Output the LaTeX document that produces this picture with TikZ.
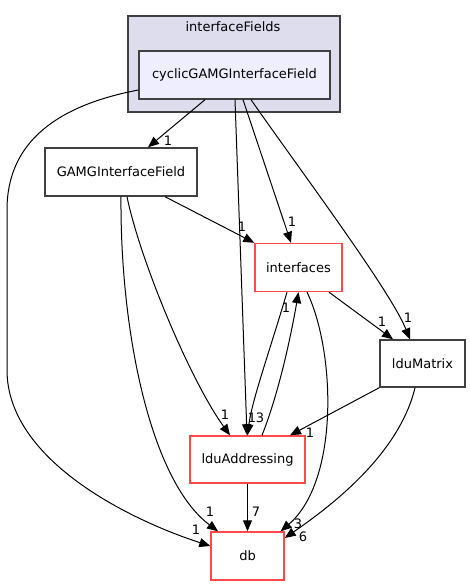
\documentclass[tikz,border=0pt]{standalone}
\usepackage{fontspec}
\setmainfont{DejaVu Sans}
\usepackage{tikz}
\usetikzlibrary{arrows.meta, calc}
\definecolor{boxLine}{RGB}{64, 64, 64}
\definecolor{redLine}{RGB}{255, 72, 72}
\definecolor{clusterFill}{RGB}{221, 221, 238}
\definecolor{innerFill}{RGB}{238, 238, 255}
\tikzset{
    dir_node/.style={
        draw=boxLine,
        line width=1.4pt,
        fill=white,
        inner sep=0pt,
        font=\fontsize{13}{15}\selectfont
    },
    dir_red/.style={
        dir_node,
        draw=redLine
    },
    dir_cluster/.style={
        draw=boxLine,
        line width=1.4pt,
        fill=clusterFill,
        inner sep=0pt
    },
    dep_edge/.style={
        -{Triangle[length=11pt,width=9pt]},
        line width=1pt,
        draw=black
    },
    dep_label/.style={
        inner sep=0pt,
        font=\fontsize{13}{15}\selectfont
    }
}

\begin{document}
\begin{tikzpicture}[x=1pt, y=-1pt]
    \useasboundingbox (0,0) rectangle (470,585);

    \node[dir_cluster, minimum width=212pt, minimum height=96pt] (fields) at (234,64) {};
    \node[dep_label] (fieldsTitle) at (233,27) {interfaceFields};
    \node[dir_node, fill=innerFill, minimum width=191pt, minimum height=48pt] (cyclic) at (234.5,75) {cyclicGAMGInterfaceField};
    \node[dir_node, minimum width=152pt, minimum height=48pt] (gamg) at (121,172) {GAMGInterfaceField};
    \node[dir_red, minimum width=87pt, minimum height=48pt] (interfaces) at (298.5,267.5) {interfaces};
    \node[dir_node, minimum width=85pt, minimum height=47pt] (lduMatrix) at (422.5,363.5) {lduMatrix};
    \node[dir_red, minimum width=115pt, minimum height=47pt] (lduAddr) at (247.5,459.5) {lduAddressing};
    \node[dir_red, minimum width=73pt, minimum height=48pt] (db) at (247.5,556) {db};

    \draw[dep_edge] ($(cyclic.west)+(0,15)$) .. controls (60,105) and (7,140) .. (7,210)
        -- (7,370) .. controls (7,460) and (130,520) .. ($(db.west)+(0,-10)$);
    \node[dep_label] at (196,530) {1};
    \draw[dep_edge] ($(cyclic.south)+(-29.5,0)$) -- ($(gamg.north)+(27,0)$);
    \node[dep_label] at (168,141) {1};
    \draw[dep_edge] ($(cyclic.south)+(0.5,0)$) -- ($(lduAddr.north)+(-0.5,0)$);
    \node[dep_label] at (252,418) {1};
    \draw[dep_edge] ($(cyclic.south)+(8.5,0)$) -- ($(interfaces.north)+(-7.5,0)$);
    \node[dep_label] at (292,222) {1};
    \draw[dep_edge] ($(cyclic.south)+(16.5,0)$) .. controls (300,170) and (390,290) .. ($(lduMatrix.north)+(-12.5,0)$);
    \node[dep_label] at (408,318) {1};

    \draw[dep_edge] ($(gamg.south)+(44,0)$) -- (interfaces.north west);
    \node[dep_label] at (242,227) {1};
    \draw[dep_edge] ($(gamg.south)+(6,0)$) .. controls (140,260) and (190,380) .. ($(lduAddr.north)+(-17.5,0)$);
    \node[dep_label] at (225,415) {1};
    \draw[dep_edge] (gamg.south) .. controls (120,330) and (150,480) .. ($(db.north)+(-29.5,0)$);
    \node[dep_label] at (210,512) {1};

    \draw[dep_edge] ($(interfaces.south)+(30.5,0)$) -- ($(lduMatrix.north)+(-29.5,0)$);
    \node[dep_label] at (382,322) {1};
    \draw[dep_edge] ($(interfaces.south)+(-11.5,0)$) .. controls (270,350) and (252,400) .. (lduAddr.north);
    \node[dep_label] at (260,418) {3};
    \draw[dep_edge] ($(interfaces.south)+(8.5,0)$) .. controls (335,350) and (340,480) .. ($(db.north east)+(-4,0)$);
    \node[dep_label] at (298,524) {3};

    \draw[dep_edge] ($(lduAddr.north)+(14.5,0)$) .. controls (280,390) and (292,330) .. (interfaces.south);
    \node[dep_label] at (286,308) {1};
    \draw[dep_edge] (lduAddr.south) -- (db.north);
    \node[dep_label] at (256,512) {7};

    \draw[dep_edge] (lduMatrix.south west) -- ($(lduAddr.north)+(42.5,0)$);
    \node[dep_label] at (310,433) {1};
    \draw[dep_edge] ($(lduMatrix.south)+(-7.5,0)$) .. controls (400,450) and (340,500) .. ($(db.east)+(0,-18)$);
    \node[dep_label] at (303,537) {6};
\end{tikzpicture}
\end{document}
